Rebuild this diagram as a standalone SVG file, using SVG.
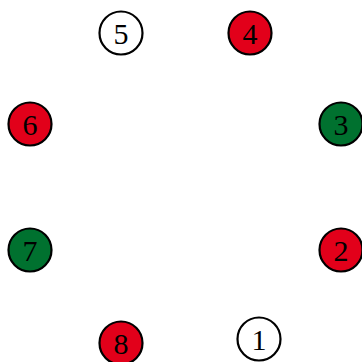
<svg xmlns="http://www.w3.org/2000/svg" width="362" height="362" viewBox="0 0 362 362">
<style>
circle{stroke:#000;stroke-width:2.2}
.w{fill:#fff}.r{fill:#e2001a}.g{fill:#00712f}
text{font-family:"Liberation Serif","DejaVu Serif",serif;font-size:30px;text-anchor:middle;dominant-baseline:central;fill:#000}
</style>
<rect width="362" height="362" fill="#fff"/>
<g id="connectors"></g>
<g id="n5"><circle class="w" cx="121" cy="33" r="21.5"/><text x="121" y="33">5</text></g>
<g id="n4"><circle class="r" cx="250" cy="33" r="21.5"/><text x="250" y="33">4</text></g>
<g id="n6"><circle class="r" cx="30" cy="124" r="21.5"/><text x="30" y="124">6</text></g>
<g id="n3"><circle class="g" cx="341" cy="124" r="21.5"/><text x="341" y="124">3</text></g>
<g id="n7"><circle class="g" cx="30" cy="250" r="21.5"/><text x="30" y="250">7</text></g>
<g id="n2"><circle class="r" cx="341" cy="250" r="21.5"/><text x="341" y="250">2</text></g>
<g id="n8"><circle class="r" cx="121" cy="343" r="21.5"/><text x="121" y="343">8</text></g>
<g id="n1"><circle class="w" cx="259" cy="339" r="21.5"/><text x="259" y="339">1</text></g>
</svg>
